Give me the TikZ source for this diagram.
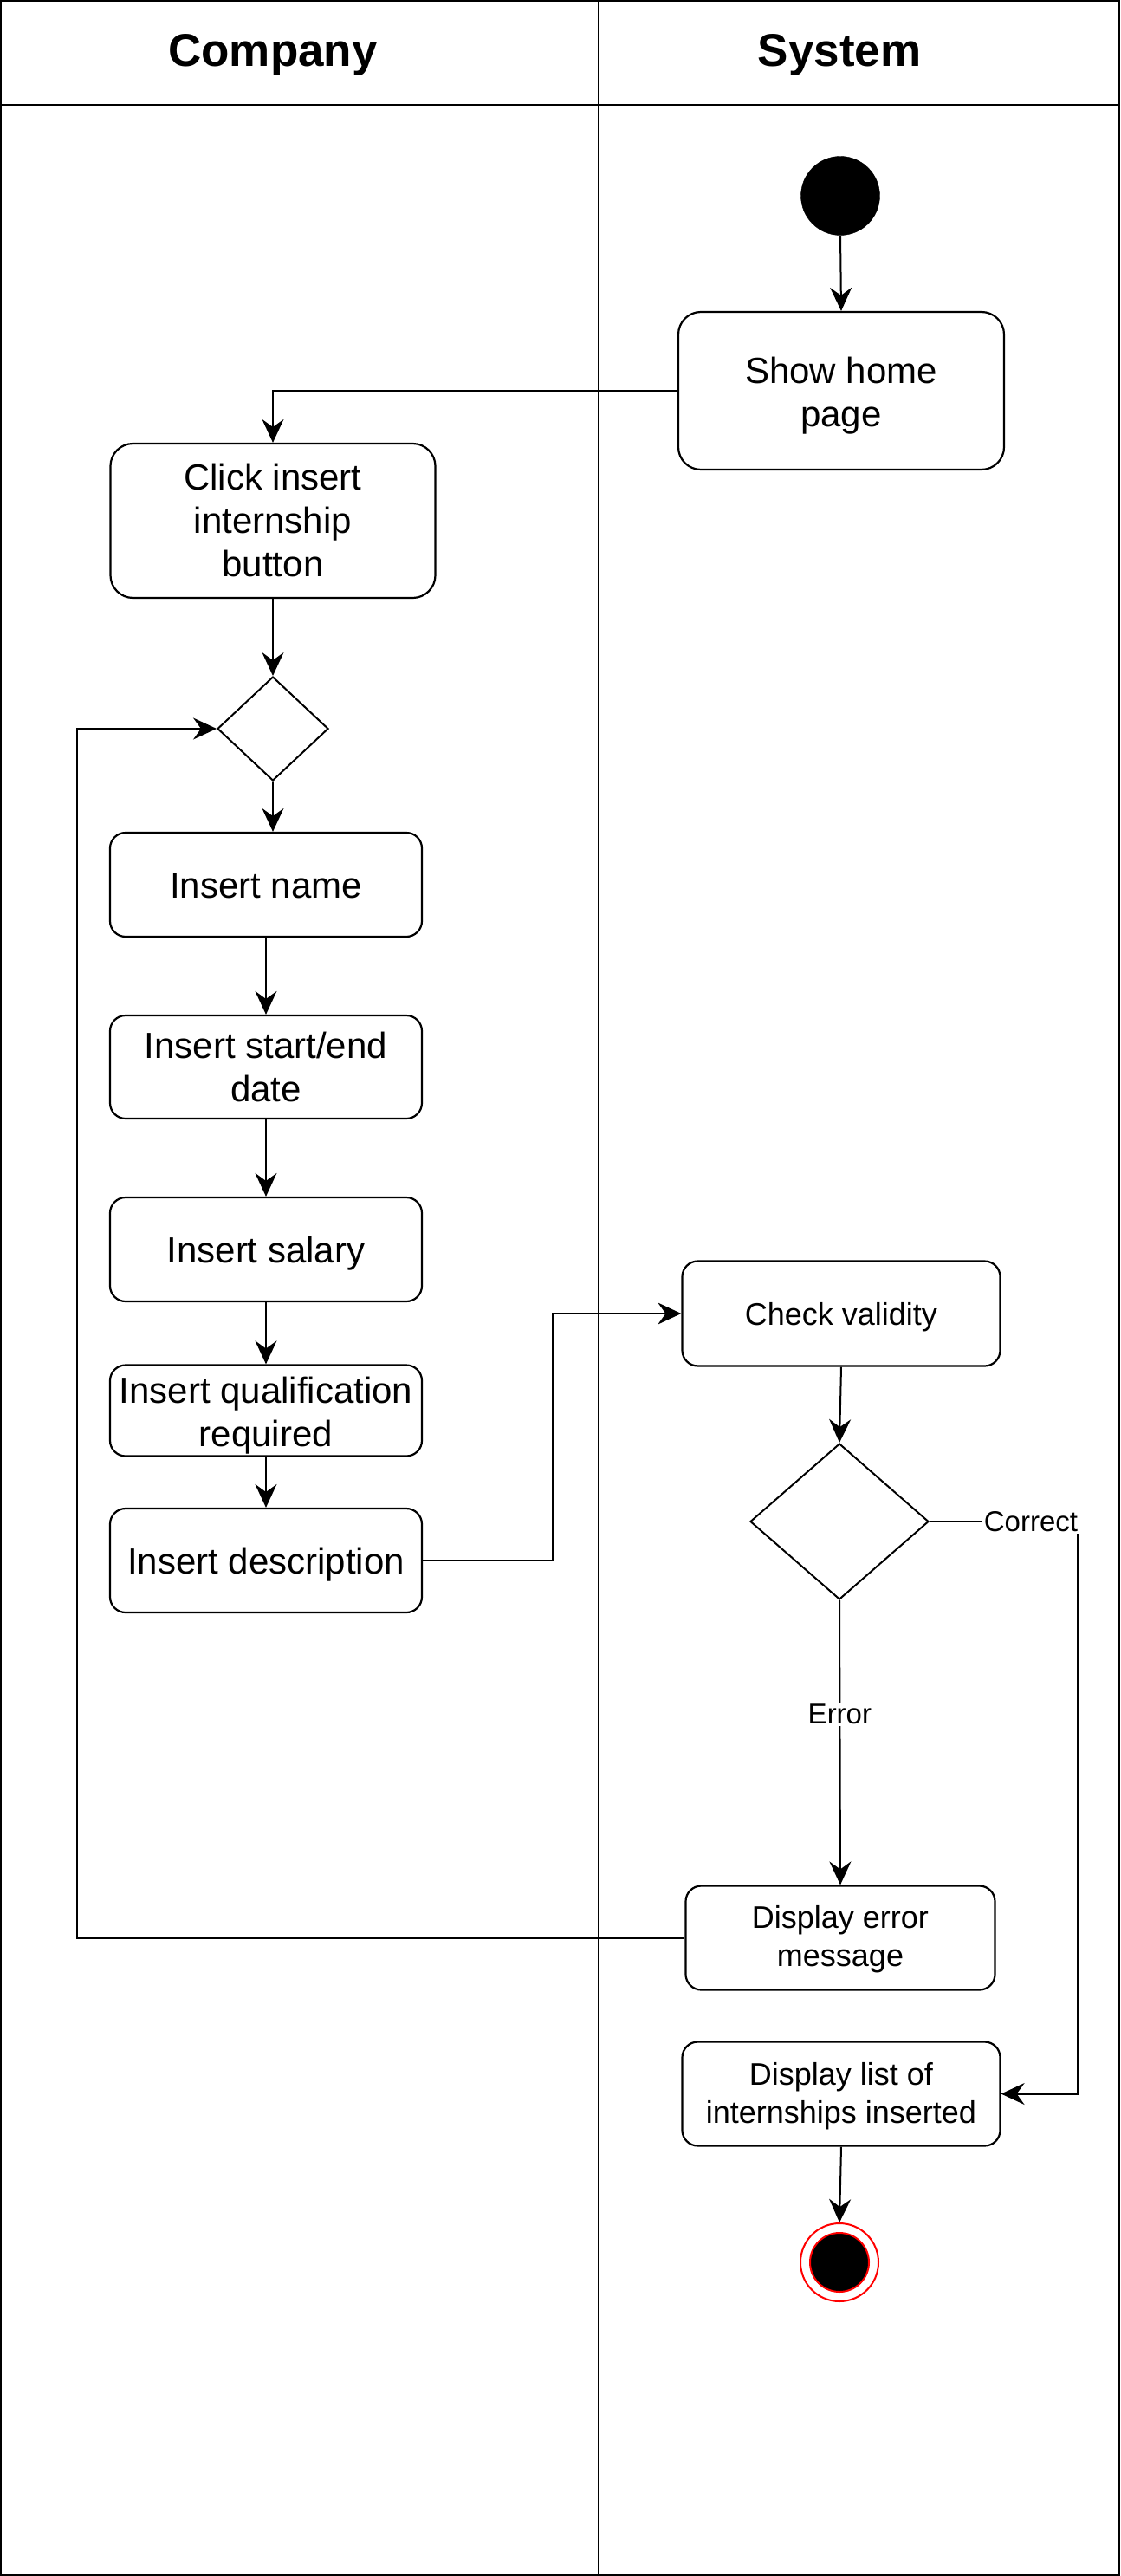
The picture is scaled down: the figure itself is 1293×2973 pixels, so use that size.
\documentclass[tikz,border=0pt]{standalone}
\usepackage{fontspec}
\setmainfont{Liberation Sans}
\usetikzlibrary{arrows.meta,shapes.geometric,calc}
\begin{document}
\begin{tikzpicture}[x=1pt,y=-1pt,
  lane/.style={line width=2.2pt},
  txt/.style={align=center, inner sep=0pt, font=\fontsize{42}{50}\selectfont,
    execute at begin node={\rule{0pt}{0.94em}},
    execute at end node={\rule[-0.21em]{0pt}{0pt}}},
  stxt/.style={txt, font=\fontsize{36}{44}\selectfont},
  act/.style={draw, line width=2.2pt, rounded corners=18pt, txt},
  sact/.style={act, stxt},
  dec/.style={draw, diamond, line width=2pt, inner sep=0pt},
  conn/.style={line width=2pt, -{Stealth[length=27pt,width=25pt,inset=9pt]}},
  lbl/.style={fill=white, inner sep=2pt, font=\fontsize{33}{38}\selectfont},
  head/.style={font=\bfseries\fontsize{53}{60}\selectfont}]
\useasboundingbox (0,0) rectangle (1293,2973);
% swimlanes
\draw[lane] (1.2,1.2) rectangle (1291.8,2971.8);
\draw[lane] (0,121) -- (1293,121);
\draw[lane] (691,0) -- (691,2973);
\node[head] (hcomp) at (315,63) {Company};
\node[head] (hsys) at (969,63) {System};
% nodes
\node[circle, fill=black, draw=black, minimum size=91pt, inner sep=0pt] (start) at (970,226) {};
\node[act, rounded corners=26pt, minimum width=376pt, minimum height=182pt,
  label={[txt, yshift=-6pt]center:{Show home\\page}}] (home) at (971,451) {};
\node[act, rounded corners=26pt, minimum width=375pt, minimum height=178pt,
  label={[txt, yshift=-4pt]center:{Click insert\\internship\\button}}] (click) at (315,601) {};
\node[dec, minimum width=128pt, minimum height=120pt] (d1) at (315,841) {};
\node[act, minimum width=360pt, minimum height=120pt] (name) at (307,1021) {Insert name};
\node[act, minimum width=360pt, minimum height=119pt,
  label={[txt, yshift=-4pt]center:{Insert start/end\\date}}] (date) at (307,1231.5) {};
\node[act, minimum width=360pt, minimum height=120pt] (salary) at (307,1442) {Insert salary};
\node[act, minimum width=360pt, minimum height=105pt,
  label={[txt, yshift=-6pt]center:{Insert qualification\\required}}] (qual) at (307,1628) {};
\node[act, minimum width=360pt, minimum height=120pt] (desc) at (307,1801) {Insert description};
\node[sact, minimum width=367pt, minimum height=121pt] (check) at (971,1516) {Check validity};
\node[dec, minimum width=206pt, minimum height=180pt] (d2) at (969,1756) {};
\node[sact, minimum width=357pt, minimum height=120pt,
  label={[stxt, yshift=-2pt]center:{Display error\\message}}] (err) at (970,2236.5) {};
\node[sact, minimum width=367pt, minimum height=120pt,
  label={[stxt, yshift=-3pt]center:{Display list of\\internships inserted}}] (list) at (971,2416.5) {};
\node[circle, draw=red, fill=white, line width=2pt, minimum size=90pt, inner sep=0pt] (end) at (969,2611) {};
\node[circle, draw=red, fill=black, line width=2pt, minimum size=68pt, inner sep=0pt] (endin) at (969,2611) {};
% connectors
\draw[conn] (start.south) -- (home.north);
\draw[conn] (home.west) -| (click.north);
\draw[conn] (click.south) -- (d1.north);
\draw[conn] (d1.south) -- (d1.south |- name.north);
\draw[conn] (name.south) -- (date.north);
\draw[conn] (date.south) -- (salary.north);
\draw[conn] (salary.south) -- (qual.north);
\draw[conn] (qual.south) -- (desc.north);
\draw[conn] (desc.east) -- ++(150,0) |- (check.west);
\draw[conn] (check.south) -- (d2.north);
\draw[conn] (d2.east) -- node[lbl, pos=0.684] {Correct} ++(171,0) |- (list.east);
\draw[conn] (d2.south) -- node[lbl, pos=0.40] {Error} (err.north);
\draw[conn] (err.west) -- ++(-701,0) |- (d1.west);
\draw[conn] (list.south) -- (end.north);
\end{tikzpicture}
\end{document}
